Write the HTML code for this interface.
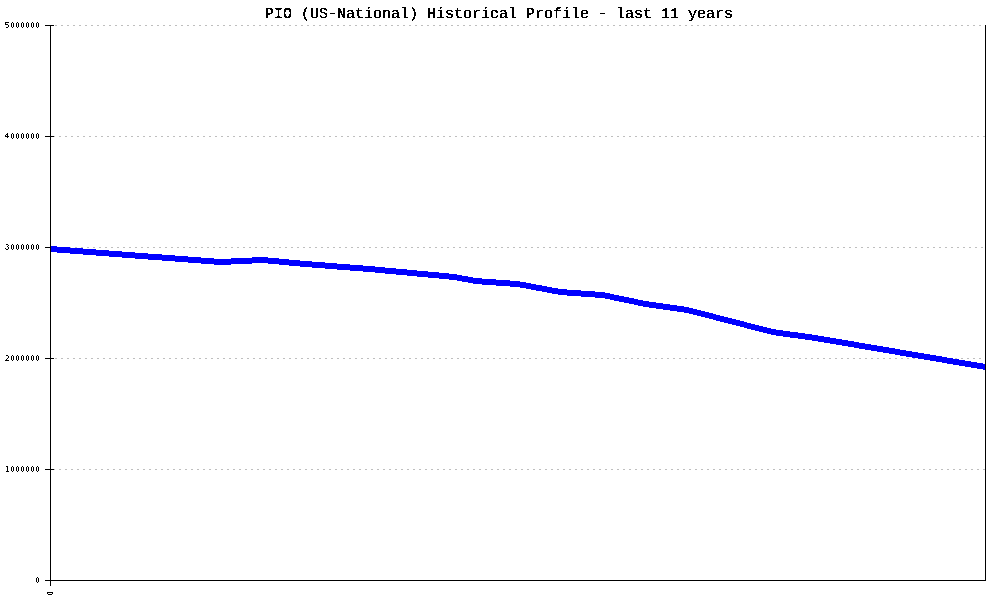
<!DOCTYPE html>
<html lang="en">
<head>
<meta charset="utf-8">
<title>PIO (US-National) Historical Profile - last 11 years</title>
<style>
html,body{margin:0;padding:0;background:#fff;}
body{width:1000px;height:600px;position:relative;overflow:hidden;font-family:"Liberation Sans",sans-serif;color:#000;}
#chart{position:absolute;left:0;top:0;width:1000px;height:600px;display:block;}
#defs{position:absolute;left:0;top:0;width:0;height:0;}
/* title: bitmap-style 9x15 monospace */
.title{position:absolute;left:200px;top:2px;width:600px;height:22px;filter:url(#bin5);}
.title span{position:absolute;left:65px;top:4px;height:17px;line-height:17px;font-family:"Liberation Mono",monospace;font-weight:normal;font-size:15px;white-space:pre;-webkit-text-stroke:0.15px #000;}
/* y axis labels: bitmap-style 5x8 digits, one digit per 5px cell */
.yl{position:absolute;left:0;width:42px;height:12px;}
.fd,.fz{position:absolute;top:0;height:12px;}
.fd{left:0;width:12px;filter:url(#bin2);}
.fd.f4{filter:url(#bin3);}
.fz{left:10px;width:32px;filter:url(#bin2);}
.fd span,.fz span{position:absolute;top:0;width:5px;height:12px;line-height:12px;text-align:center;font-family:"Liberation Sans",sans-serif;font-weight:normal;}
.fd span{left:4.56px;font-size:8.4px;}
.fd.f4 span{left:4.3px;font-size:8.1px;transform:scale(1,0.87);}
.fz span{font-size:8.7px;transform:scale(0.73,1.06);}
.fz span:nth-child(1){left:0;}
.fz span:nth-child(2){left:5px;}
.fz span:nth-child(3){left:10px;}
.fz span:nth-child(4){left:15px;}
.fz span:nth-child(5){left:20px;}
.fz span:nth-child(6){left:25px;}
.fz.one span{left:25px;}
/* x axis label, rotated */
.xl{position:absolute;left:40px;top:586px;width:20px;height:14px;filter:url(#bin4);}
.xl span{position:absolute;left:4.875px;top:1px;width:12px;height:12px;line-height:12px;text-align:center;font-family:"Liberation Sans",sans-serif;font-size:7.9px;transform-origin:50% 50%;transform:rotate(-90deg) scale(0.74,1.12);}
</style>
</head>
<body>
<svg id="defs" width="0" height="0"><defs>
<filter id="bin2" x="0" y="0" width="100%" height="100%"><feComponentTransfer><feFuncA type="discrete" tableValues="0 1"/></feComponentTransfer></filter>
<filter id="bin3" x="0" y="0" width="100%" height="100%"><feComponentTransfer><feFuncA type="discrete" tableValues="0 1 1"/></feComponentTransfer></filter>
<filter id="bin4" x="0" y="0" width="100%" height="100%"><feComponentTransfer><feFuncA type="discrete" tableValues="0 1 1 1"/></feComponentTransfer></filter>
<filter id="bin5" x="0" y="0" width="100%" height="100%"><feComponentTransfer><feFuncA type="discrete" tableValues="0 0 1 1 1"/></feComponentTransfer></filter>
</defs></svg>
<svg id="chart" width="1000" height="600" viewBox="0 0 1000 600" shape-rendering="crispEdges">
<rect x="0" y="0" width="1000" height="600" fill="#ffffff"/>
<g stroke="#bebebe" stroke-width="1" stroke-dasharray="2 4" fill="none">
<line x1="51" y1="25.5" x2="985" y2="25.5" stroke-dashoffset="2"/>
<line x1="51" y1="136.5" x2="985" y2="136.5" stroke-dashoffset="4"/>
<line x1="51" y1="247.5" x2="985" y2="247.5" stroke-dashoffset="0"/>
<line x1="51" y1="358.5" x2="985" y2="358.5" stroke-dashoffset="2"/>
<line x1="51" y1="469.5" x2="985" y2="469.5" stroke-dashoffset="4"/>
</g>
<g fill="#000000">
<rect x="45" y="25" width="9" height="1"/>
<rect x="45" y="136" width="9" height="1"/>
<rect x="45" y="247" width="9" height="1"/>
<rect x="45" y="358" width="9" height="1"/>
<rect x="45" y="469" width="9" height="1"/>
</g>
<path d="M51 246H57V247H70V248H83V249H96V250H109V251H122V252H135V253H148V254H162V255H175V256H188V257H201V258H214V259H231V258H252V257H268V258H279V259H289V260H300V261H312V262H325V263H337V264H350V265H363V266H375V267H385V268H396V269H407V270H417V271H428V272H439V273H449V274H457V275H462V276H468V277H473V278H482V279H496V280H510V281H520V282H526V283H531V284H536V285H542V286H547V287H552V288H558V289H567V290H581V291H595V292H605V293H610V294H614V295H619V296H624V297H629V298H634V299H638V300H643V301H649V302H656V303H663V304H670V305H677V306H684V307H689V308H693V309H697V310H701V311H705V312H709V313H713V314H716V315H720V316H724V317H728V318H732V319H736V320H740V321H744V322H747V323H751V324H755V325H759V326H763V327H767V328H771V329H776V330H783V331H790V332H798V333H805V334H812V335H818V336H824V337H830V338H836V339H842V340H848V341H854V342H859V343H865V344H871V345H877V346H883V347H889V348H895V349H900V350H906V351H912V352H918V353H924V354H930V355H936V356H942V357H947V358H953V359H959V360H965V361H971V362H977V363H983V364H985V370H983V369H977V368H971V367H965V366H959V365H953V364H947V363H942V362H936V361H930V360H924V359H918V358H912V357H906V356H900V355H895V354H889V353H883V352H877V351H871V350H865V349H859V348H854V347H848V346H842V345H836V344H830V343H824V342H818V341H812V340H805V339H798V338H790V337H783V336H776V335H771V334H767V333H763V332H759V331H755V330H751V329H747V328H744V327H740V326H736V325H732V324H728V323H724V322H720V321H716V320H713V319H709V318H705V317H701V316H697V315H693V314H689V313H684V312H677V311H670V310H663V309H656V308H649V307H643V306H638V305H634V304H629V303H624V302H619V301H614V300H610V299H605V298H595V297H581V296H567V295H558V294H552V293H547V292H542V291H536V290H531V289H526V288H520V287H510V286H496V285H482V284H473V283H468V282H462V281H457V280H449V279H439V278H428V277H417V276H407V275H396V274H385V273H375V272H363V271H350V270H337V269H325V268H312V267H300V266H289V265H279V264H268V263H252V264H231V265H214V264H201V263H188V262H175V261H162V260H148V259H135V258H122V257H109V256H96V255H83V254H70V253H57V252H51Z" fill="#0000ff"/>
<g fill="#000000">
<rect x="50" y="25" width="1" height="561"/>
<rect x="985" y="25" width="1" height="556"/>
<rect x="45" y="580" width="941" height="1"/>
</g>
</svg>
<div class="title"><span>PIO (US-National) Historical Profile - last 11 years</span></div>
<div class="yl" style="top:19px"><span class="fd"><span>5</span></span><span class="fz"><span>0</span><span>0</span><span>0</span><span>0</span><span>0</span><span>0</span></span></div>
<div class="yl" style="top:130px"><span class="fd f4"><span>4</span></span><span class="fz"><span>0</span><span>0</span><span>0</span><span>0</span><span>0</span><span>0</span></span></div>
<div class="yl" style="top:241px"><span class="fd"><span>3</span></span><span class="fz"><span>0</span><span>0</span><span>0</span><span>0</span><span>0</span><span>0</span></span></div>
<div class="yl" style="top:352px"><span class="fd"><span>2</span></span><span class="fz"><span>0</span><span>0</span><span>0</span><span>0</span><span>0</span><span>0</span></span></div>
<div class="yl" style="top:463px"><span class="fd"><span>1</span></span><span class="fz"><span>0</span><span>0</span><span>0</span><span>0</span><span>0</span><span>0</span></span></div>
<div class="yl" style="top:574px"><span class="fz one"><span>0</span></span></div>
<div class="xl"><span>0</span></div>
</body>
</html>
